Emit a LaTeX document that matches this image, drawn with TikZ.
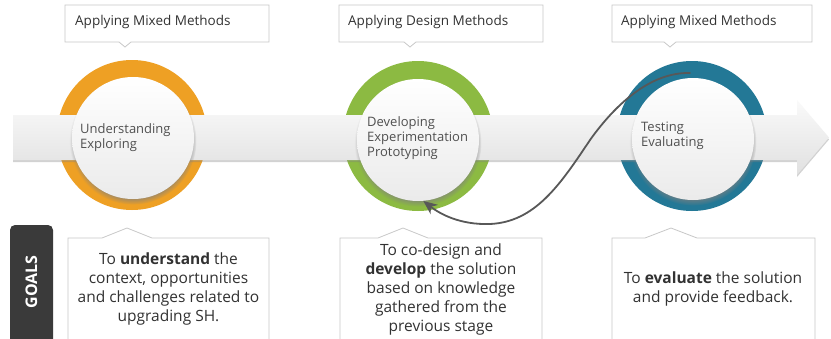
\documentclass[tikz,border=0pt]{standalone}
\usepackage{fontspec}
\setmainfont{Open Sans}
\usetikzlibrary{shadows,arrows.meta}

\definecolor{ringorange}{RGB}{238,160,36}
\definecolor{ringgreen}{RGB}{140,186,66}
\definecolor{ringblue}{RGB}{35,120,150}
\definecolor{boxline}{RGB}{200,200,200}
\definecolor{txt}{RGB}{50,50,50}
\definecolor{steptxt}{RGB}{80,80,80}
\definecolor{tabgray}{RGB}{58,58,58}
\definecolor{fbgray}{RGB}{88,88,88}

\begin{document}
\begin{tikzpicture}[x=1pt,y=-1pt,
  ring/.style={circle, minimum size=150pt, inner sep=0pt, draw=none},
  disc/.style={circle, minimum size=122pt, inner sep=0pt,
    top color=white, bottom color=black!8,
    circular drop shadow={shadow xshift=0pt, shadow yshift=-3pt, shadow scale=1.04}},
  band/.style={top color=black!2, bottom color=black!12,
    drop shadow={shadow xshift=0pt, shadow yshift=-2pt, opacity=0.35}},
  labelbox/.style={fill=white, draw=boxline, line width=0.8pt},
  labeltext/.style={text=txt, font=\fontsize{13.5}{16}\selectfont, anchor=west, inner sep=0pt},
  steptext/.style={text=steptxt, font=\fontsize{13}{15}\selectfont, anchor=west, align=left, inner sep=0pt},
  goalbox/.style={fill=white, draw=boxline, line width=0.8pt},
  goaltext/.style={text=txt, font=\fontsize{15.5}{19}\selectfont, align=center, inner sep=0pt},
  fbarrow/.style={draw=fbgray, line width=1.8pt, line cap=round,
    -{Stealth[length=14pt, width=12pt]}}
]
\useasboundingbox (0,0) rectangle (831,338);
\fill[white] (0,0) rectangle (831,338);

% coloured rings behind the process band
\node[ring, fill=ringorange] (r1) at (132,135) {};
\node[ring, fill=ringgreen]  (r2) at (418,136) {};
\node[ring, fill=ringblue]   (r3) at (692,136) {};

% process band with arrow head
\path[band] (13,115) -- (797,115) -- (797,100) -- (829,137.5)
  -- (797,175) -- (797,160) -- (13,160) -- cycle;

% white discs on top of the band
\node[disc] (c1) at (133,138) {};
\node[disc] (c2) at (418,140) {};
\node[disc] (c3) at (693,139) {};

\node[steptext] (s1) at (80,137.5) {Understanding\\Exploring};
\node[steptext] (s2) at (367,138) {Developing\\Experimentation\\Prototyping};
\node[steptext] (s3) at (641,135.5) {Testing\\Evaluating};

% method labels above the rings
\path[labelbox] (65,5) -- (269,5) -- (269,42) -- (131,42) -- (125,47) -- (119,42) -- (65,42) -- cycle;
\path[labelbox] (339,5) -- (543,5) -- (543,42) -- (416,42) -- (410,47) -- (404,42) -- (339,42) -- cycle;
\path[labelbox] (612,5) -- (812,5) -- (812,42) -- (676,42) -- (670,47) -- (664,42) -- (612,42) -- cycle;
\node[labeltext] (m1) at (75,22) {Applying Mixed Methods};
\node[labeltext] (m2) at (348,22) {Applying Design Methods};
\node[labeltext] (m3) at (621,22) {Applying Mixed Methods};

% goal boxes below the rings
\path[goalbox] (68,345) -- (68,238) -- (102,238) -- (127,228) -- (152,238) -- (269,238) -- (269,345);
\path[goalbox] (340,345) -- (340,238) -- (378,238) -- (403,228) -- (428,238) -- (542,238) -- (542,345);
\path[goalbox] (612,345) -- (612,238) -- (645,238) -- (671,228) -- (697,238) -- (815,238) -- (815,345);
\node[goaltext] (g1) at (168.5,289) {To \textbf{understand} the\\context, opportunities\\and challenges related to\\upgrading SH.};
\node[goaltext] (g2) at (441,289) {To co-design and\\\textbf{develop} the solution\\based on knowledge\\gathered from the\\previous stage};
\node[goaltext] (g3) at (713,289) {To \textbf{evaluate} the solution\\and provide feedback.};

% side tab
\path[fill=tabgray, rounded corners=5pt] (10,350) -- (10,225) -- (53,225) -- (53,350);
\node[text=white, font=\fontsize{16}{16}\selectfont\bfseries, rotate=90] (goals) at (31.5,282) {GOALS};

% feedback loop from testing back to development
\coordinate (fbstart) at (690,73);
\draw[fbarrow] (fbstart) .. controls (650,72) and (615,105) .. (590,140)
  .. controls (560,185) and (535,222) .. (490,224)
  .. controls (460,225) and (440,214) .. (c2.-85);
\end{tikzpicture}
\end{document}
